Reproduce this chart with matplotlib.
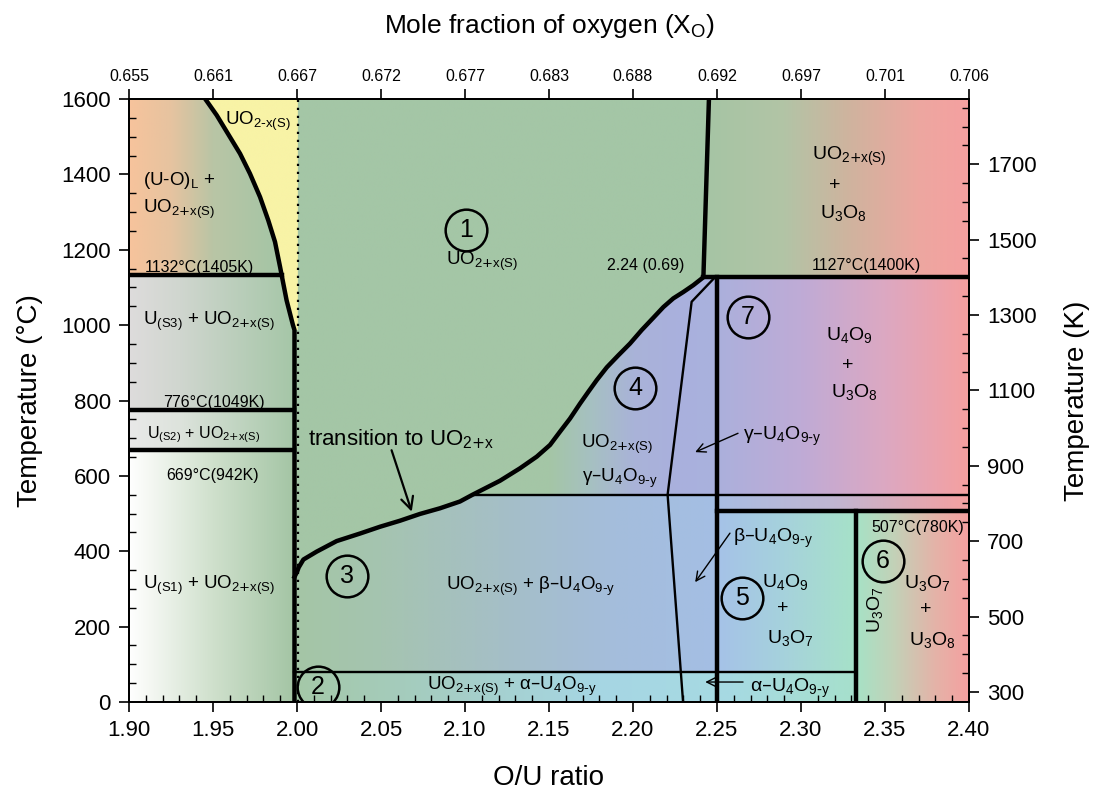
import numpy as np
import matplotlib
matplotlib.use('Agg')
import matplotlib.pyplot as plt
from matplotlib.patches import Polygon
from matplotlib.colors import to_rgb
from matplotlib.ticker import MultipleLocator

plt.rcParams['font.family'] = ['Liberation Sans', 'DejaVu Sans']
plt.rcParams['mathtext.default'] = 'regular'

# ---------------- data ----------------
# liquidus-type boundary (left, thick)
liq_x = [1.9454, 1.9522, 1.9601, 1.9661, 1.9720, 1.9780, 1.9829, 1.9869, 1.9899, 1.9909,
         1.9938, 1.9976, 1.9985]
liq_y = [1600, 1557, 1499, 1455, 1402, 1340, 1278, 1221, 1155, 1132, 1066, 1000, 987]
I_EUT = 9  # index of the 1132 degC point
# UO2+x solvus (thick curve)
sol_x = [1.9985, 2.0000, 2.0010, 2.0038, 2.0117, 2.0236, 2.0375, 2.0494, 2.0613, 2.0732,
         2.0851, 2.0970, 2.1045, 2.1208, 2.1327, 2.1427, 2.1506, 2.1565, 2.1625, 2.1685,
         2.1734, 2.1784, 2.1844, 2.1913, 2.1982, 2.2052, 2.2122, 2.2181, 2.2240, 2.2300,
         2.2359, 2.2419]
sol_y = [332, 345, 357, 378, 399, 427, 447, 465, 481, 499,
         514, 532, 550, 587, 620, 651, 682, 717, 752, 792,
         823, 854, 888, 920, 951, 987, 1020, 1048, 1071, 1088,
         1106, 1127]
# upper vertical boundary
top_x = [2.2419, 2.2452]
top_y = [1127, 1600]
# gamma-U4O9 boundary (thin)
gam_x = [2.2488, 2.2349, 2.2206, 2.2298]
gam_y = [1127, 1062, 550, 0]
# isotherms (degC)
T_liq_eut = 1132
T_u3o8 = 1127
T_s3 = 776
T_s2 = 669
T_gamma = 550
T_507 = 507
T_alpha = 80
X_U4O9 = 2.25
X_U3O7 = 2.333
X_UO2 = 1.9985

bottom_ticks = [1.90, 1.95, 2.00, 2.05, 2.10, 2.15, 2.20, 2.25, 2.30, 2.35, 2.40]
top_labels = ['0.655', '0.661', '0.667', '0.672', '0.677', '0.683', '0.688',
              '0.692', '0.697', '0.701', '0.706']
left_ticks = [0, 200, 400, 600, 800, 1000, 1200, 1400, 1600]
right_ticks = [300, 500, 700, 900, 1100, 1300, 1500, 1700]

circle_x = [2.1006, 2.0125, 2.0298, 2.2012, 2.2649, 2.3488, 2.2685]
circle_y = [1252, 40, 334, 833, 276, 374, 1021]
circle_lab = ['1', '2', '3', '4', '5', '6', '7']

# ---------------- figure ----------------
fig = plt.figure(figsize=(10.99, 7.98), dpi=100)
ax = fig.add_axes([0.11738, 0.1203, 0.76433, 0.75564])

GREEN = '#a4c6a6'
PINK = '#f5a0a0'


def grad_fill(xs, ys, stops):
    xs = np.asarray(xs, float)
    ys = np.asarray(ys, float)
    poly = Polygon(np.column_stack([xs, ys]), closed=True, facecolor='none',
                   edgecolor='none')
    ax.add_patch(poly)
    gx = np.linspace(xs.min(), xs.max(), 300)
    pos = [s[0] for s in stops]
    cols = np.array([to_rgb(s[1]) for s in stops])
    rgb = np.stack([np.interp(gx, pos, cols[:, k]) for k in range(3)], axis=-1)
    img = np.tile(rgb[None, :, :], (2, 1, 1))
    im = ax.imshow(img, extent=[xs.min(), xs.max(), ys.min(), ys.max()],
                   origin='lower', aspect='auto', interpolation='bilinear', zorder=0)
    im.set_clip_path(poly)


def rect(x0, x1, y0, y1):
    return [x0, x1, x1, x0], [y0, y0, y1, y1]


# base region 1
xs, ys = rect(1.995, 2.2452, 0, 1600)
grad_fill(xs, ys, [(2.0, GREEN), (2.3, GREEN)])
# top left liquid + UO2
grad_fill([1.90, 1.90] + liq_x[:I_EUT + 1], [T_liq_eut, 1600] + liq_y[:I_EUT + 1],
          [(1.90, '#f7c39c'), (1.925, '#e6c3a0'), (1.95, '#b9c5a5'), (1.99, GREEN)])
# yellow UO2-x
grad_fill(liq_x + [2.0005, 2.0005], liq_y + [987, 1600],
          [(1.9, '#f8f3a6'), (2.01, '#f8f3a6')])
# U(S3) + UO2
grad_fill([1.90, 1.90] + liq_x[I_EUT:] + [X_UO2],
          [T_s3, T_liq_eut] + liq_y[I_EUT:] + [T_s3],
          [(1.90, '#dedcdc'), (1.93, '#d0d6cf'), (2.0, GREEN)])
xs, ys = rect(1.90, X_UO2, T_s2, T_s3)
grad_fill(xs, ys, [(1.90, '#e9e9e9'), (1.93, '#dde3dc'), (2.0, GREEN)])
xs, ys = rect(1.90, X_UO2, 0, T_s2)
grad_fill(xs, ys, [(1.90, '#ffffff'), (1.915, '#f2f6f0'), (1.95, '#cfe0cc'), (2.0, '#a2c4a3')])
# top right UO2+x + U3O8
grad_fill(top_x + [2.40, 2.40], top_y + [1600, T_u3o8],
          [(2.245, '#a6c5a4'), (2.29, '#b2c4a6'), (2.33, '#d0b39e'), (2.37, '#eda7a0'), (2.40, PINK)])
# region 3
grad_fill([X_UO2] + [x for x, y in zip(sol_x, sol_y) if y <= T_gamma] + [X_U4O9, X_U4O9],
          [T_alpha] + [y for y in sol_y if y <= T_gamma] + [T_gamma, T_alpha],
          [(2.0, GREEN), (2.05, '#a5c4b0'), (2.12, '#a5bfc6'), (2.19, '#a4bddc'), (2.25, '#a4bfe4')])
# region 4
grad_fill([x for x, y in zip(sol_x, sol_y) if y >= T_gamma] + [X_U4O9, X_U4O9],
          [y for y in sol_y if y >= T_gamma] + [T_u3o8, T_gamma],
          [(2.15, GREEN), (2.175, '#a6c0c2'), (2.20, '#a9b3d8'), (2.225, '#aab0dd'), (2.25, '#a9b2dd')])
# bottom band
xs, ys = rect(X_UO2, X_U3O7, 0, T_alpha)
grad_fill(xs, ys, [(2.0, '#a4c8a8'), (2.08, '#a5cdc2'), (2.18, '#a6d6e4'), (2.26, '#a6dae2'),
                   (2.333, '#a6e0cc')])
# region 5
xs, ys = rect(X_U4O9, X_U3O7, T_alpha, T_507)
grad_fill(xs, ys, [(2.25, '#a5c2e8'), (2.29, '#a6d2dc'), (2.333, '#a6e2c8')])
# band 507-550
xs, ys = rect(X_U4O9, 2.40, T_507, T_gamma)
grad_fill(xs, ys, [(2.25, '#a9bde2'), (2.32, '#c1b6d2'), (2.40, PINK)])
# region 7
xs, ys = rect(X_U4O9, 2.40, T_gamma, T_u3o8)
grad_fill(xs, ys, [(2.25, '#abb0dc'), (2.30, '#bfabd6'), (2.35, '#dca8c2'), (2.40, PINK)])
# region 6
xs, ys = rect(X_U3O7, 2.40, 0, T_507)
grad_fill(xs, ys, [(2.333, '#a6e2c6'), (2.355, '#c2d2b8'), (2.38, '#e4b3a8'), (2.40, PINK)])

# ---------------- boundaries ----------------
TH = 3.2
TN = 1.7
kw_thick = dict(color='black', lw=TH, zorder=3, solid_joinstyle='round')
kw_thin = dict(color='black', lw=TN, zorder=3)

ax.plot([2.0006, 2.0006], [0, 1600], color='black', lw=1.6, ls=(0, (1, 2.6)), zorder=2)
ax.plot(liq_x + [X_UO2], liq_y + [0], **kw_thick)
ax.plot(sol_x + top_x[1:], sol_y + top_y[1:], **kw_thick)
ax.plot(gam_x, gam_y, **kw_thin)
ax.plot([1.90, liq_x[I_EUT]], [T_liq_eut, T_liq_eut], **kw_thick)
ax.plot([1.90, X_UO2], [T_s3, T_s3], **kw_thick)
ax.plot([1.90, X_UO2], [T_s2, T_s2], **kw_thick)
ax.plot([sol_x[-1], 2.40], [T_u3o8, T_u3o8], **kw_thick)
ax.plot([X_U4O9, X_U4O9], [0, T_u3o8], **kw_thick)
ax.plot([X_U4O9, 2.40], [T_507, T_507], **kw_thick)
ax.plot([X_U3O7, X_U3O7], [0, T_507], **kw_thick)
ax.plot([2.1045, 2.40], [T_gamma, T_gamma], **kw_thin)
ax.plot([X_UO2, X_U3O7], [T_alpha, T_alpha], **kw_thin)

# numbered circles
ax.plot(circle_x, circle_y, 'o', ms=30, mfc='none', mec='black', mew=1.8, zorder=4)
for cx, cy, cl in zip(circle_x, circle_y, circle_lab):
    ax.text(cx, cy, cl, fontsize=18, ha='center', va='center', zorder=5)

# ---------------- labels ----------------
def lab(x, y, s, fs=13.5, ha='center', **k):
    ax.text(x, y, s, fontsize=fs, ha=ha, va='baseline', zorder=5, **k)

UOP = r'UO$_{2\text{+}x(S)}$'
G9 = r'U$_4$O$_{9\text{-}y}$'
lab(1.9768, 1530, r'UO$_{2\text{-}x(S)}$')
lab(1.9085, 1371, r'(U-O)$_L$ +', ha='left')
lab(1.9085, 1297, UOP, ha='left')
lab(1.9095, 1140, '1132°C(1405K)', fs=11.5, ha='left')
lab(2.110, 1159, UOP)
lab(2.2077, 1146, '2.24 (0.69)', fs=11.5)
lab(2.329, 1438, UOP, fs=14)
lab(2.3202, 1358, '+', fs=14)
lab(2.325, 1284, r'U$_3$O$_8$', fs=14)
lab(2.3387, 1146, '1127°C(1400K)', fs=11.5)
lab(1.9476, 1000, r'U$_{(S3)}$ + ' + UOP)
lab(1.9506, 782, '776°C(1049K)', fs=11.5)
lab(1.9446, 700, r'U$_{(S2)}$ + ' + UOP, fs=11.5)
lab(1.9497, 589, '669°C(942K)', fs=11.5)
lab(1.9476, 300, r'U$_{(S1)}$ + ' + UOP)
lab(2.0064, 682, r'transition to UO$_{2\text{+}x}$', fs=16, ha='left')
lab(2.1905, 674, UOP)
lab(2.192, 583, 'γ–' + G9)
lab(2.329, 960, r'U$_4$O$_9$', fs=14)
lab(2.328, 880, '+', fs=14)
lab(2.332, 809, r'U$_3$O$_8$', fs=14)
lab(2.2655, 695, 'γ–' + G9, fs=14, ha='left')
lab(2.139, 297, UOP + ' + β–' + G9)
lab(2.128, 32, UOP + ' + α–' + G9)
lab(2.2595, 425, 'β–' + G9, fs=14, ha='left')
lab(2.2905, 305, r'U$_4$O$_9$', fs=14)
lab(2.289, 236, '+', fs=14)
lab(2.2935, 156, r'U$_3$O$_7$', fs=14)
lab(2.2696, 26, 'α–' + G9, fs=14, ha='left')
lab(2.3693, 451, '507°C(780K)', fs=11.5)
ax.text(2.344, 244, r'U$_3$O$_7$', fontsize=14, rotation=90, ha='center', va='center', zorder=5)
lab(2.3753, 302, r'U$_3$O$_7$', fs=14)
lab(2.374, 233, '+', fs=14)
lab(2.378, 151, r'U$_3$O$_8$', fs=14)

# arrows
ax.annotate('', xy=(2.0683, 505), xytext=(2.0563, 668),
            arrowprops=dict(arrowstyle='->', lw=1.6, color='black', mutation_scale=22,
                            shrinkA=0, shrinkB=0), zorder=5)
for (tx, ty), (hx, hy) in [((2.2625, 713), (2.237, 663)),
                           ((2.2577, 448), (2.237, 318)),
                           ((2.2655, 53), (2.243, 53))]:
    ax.annotate('', xy=(hx, hy), xytext=(tx, ty),
                arrowprops=dict(arrowstyle='->', lw=1.0, color='black', mutation_scale=16,
                                shrinkA=0, shrinkB=0), zorder=5)

# ---------------- axes ----------------
ax.set_xlim(1.90, 2.40)
ax.set_ylim(0, 1600)
ax.set_xticks(bottom_ticks)
ax.set_xticklabels([f'{v:.2f}' for v in bottom_ticks])
ax.set_yticks(left_ticks)
ax.xaxis.set_minor_locator(MultipleLocator(0.01))
ax.yaxis.set_minor_locator(MultipleLocator(50))
ax.tick_params(which='major', direction='out', length=7, width=1.2, labelsize=16, pad=6)
ax.tick_params(which='minor', direction='in', length=5, width=1.0)
for s in ax.spines.values():
    s.set_linewidth(1.2)
ax.set_xlabel('O/U ratio', fontsize=20, labelpad=17)
ax.set_ylabel('Temperature (°C)', fontsize=20, labelpad=13)

axR = ax.twinx()
axR.set_ylim(273.15, 1873.15)
axR.set_yticks(right_ticks)
axR.yaxis.set_minor_locator(MultipleLocator(50))
axR.tick_params(which='major', direction='out', length=7, width=1.2, labelsize=16, pad=6)
axR.tick_params(which='minor', direction='in', length=5, width=1.0)
axR.set_ylabel('Temperature (K)', fontsize=20, labelpad=20)

axT = ax.twiny()
axT.set_xlim(1.90, 2.40)
axT.set_xticks(bottom_ticks)
axT.set_xticklabels(top_labels)
axT.tick_params(which='major', direction='out', length=7, width=1.2, labelsize=11.5, pad=4)
axT.tick_params(which='minor', length=0)
axT.set_xlabel('Mole fraction of oxygen (X$_O$)', fontsize=19, labelpad=26)
for a in (axR, axT):
    for s in a.spines.values():
        s.set_linewidth(1.2)

fig.savefig('out.png', dpi=100)
